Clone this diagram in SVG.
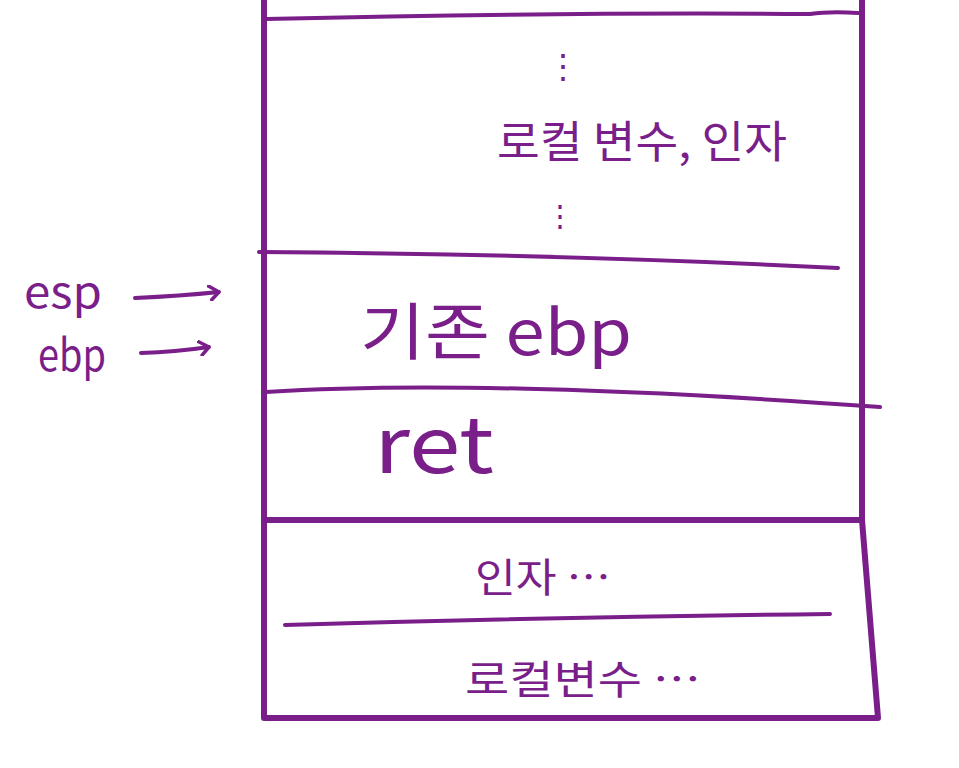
<svg xmlns="http://www.w3.org/2000/svg" width="959" height="768" viewBox="0 0 959 768">
<style>
.ln{fill:none;stroke:#7a1e8a;stroke-linecap:round;stroke-linejoin:round}
.box{stroke-width:6}
.sep{stroke-width:4}
.arr{stroke-width:4}
.t{fill:#7a1e8a;font-family:"Noto Sans CJK KR","Noto Sans",sans-serif;font-weight:400}
</style>
<defs>
<marker id="ah" viewBox="0 0 12 16" refX="11" refY="8" markerWidth="12" markerHeight="16" markerUnits="userSpaceOnUse" orient="auto">
<path d="M1 1 L11 8 L3 15" fill="none" stroke="#7a1e8a" stroke-width="3.5" stroke-linecap="round" stroke-linejoin="round"/>
</marker>
</defs>
<rect width="959" height="768" fill="#fff"/>
<g id="stack-frame">
<path class="ln box" d="M264 0 L264 718 L878 718 L862 520 L862 0"/>
<path class="ln box" d="M264 520 L862 520"/>
</g>
<g id="caller-frame">
<path class="ln sep" d="M266 19 Q560 12 810 14 Q830 11 858 13"/>
<text class="t" x="563" y="78" font-size="34" font-weight="700" text-anchor="middle">⋮</text>
<text class="t" x="497" y="158" font-size="44" textLength="290" lengthAdjust="spacingAndGlyphs">로컬 변수, 인자</text>
<text class="t" x="560" y="226" font-size="30" font-weight="700" text-anchor="middle">⋮</text>
</g>
<g id="saved-ebp">
<path class="ln sep" d="M259 252 Q560 254 838 268"/>
<text class="t" x="360" y="355" font-size="62" textLength="272" lengthAdjust="spacingAndGlyphs">기존  ebp</text>
</g>
<g id="ret">
<path class="ln sep" d="M266 392 Q480 378 880 407"/>
<text class="t" x="374" y="473" font-size="78" textLength="120" lengthAdjust="spacingAndGlyphs">ret</text>
</g>
<g id="args">
<text class="t" x="475" y="592" font-size="40" textLength="136" lengthAdjust="spacingAndGlyphs">인자 …</text>
<path class="ln sep" d="M285 625 Q560 617 830 614"/>
</g>
<g id="locals">
<text class="t" x="465" y="694" font-size="40" textLength="236" lengthAdjust="spacingAndGlyphs">로컬변수 …</text>
</g>
<g id="esp-label">
<text class="t" x="24" y="308" font-size="44" textLength="78" lengthAdjust="spacingAndGlyphs">esp</text>
</g>
<g id="ebp-label">
<text class="t" x="38" y="371" font-size="44" textLength="68" lengthAdjust="spacingAndGlyphs">ebp</text>
</g>
<g id="connectors">
<path class="ln arr" d="M135 298 Q180 296 219 292" marker-end="url(#ah)"/>
<path class="ln arr" d="M141 353 Q175 352 209 347" marker-end="url(#ah)"/>
</g>
</svg>
